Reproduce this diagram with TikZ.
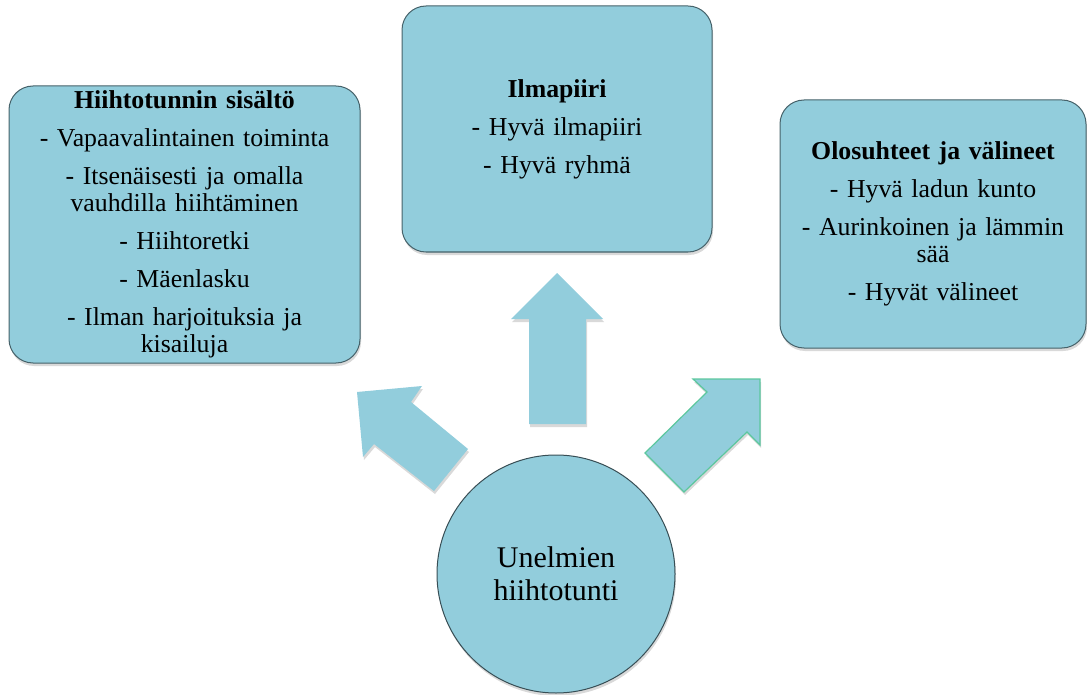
\documentclass[tikz,border=0pt]{standalone}
\usepackage{fontspec}
\setmainfont{Liberation Serif}
\usetikzlibrary{shadows}
\definecolor{boxfill}{HTML}{92CDDC}
\definecolor{boxline}{HTML}{46626A}
\definecolor{arrowline}{HTML}{5CC79E}
\tikzset{
  softshadow/.style={drop shadow={opacity=0.3, shadow xshift=1pt, shadow yshift=-3pt}},
  infobox/.style={draw=boxline, line width=1pt, fill=boxfill, rounded corners=24pt,
    align=center, inner sep=0pt, font=\fontsize{25.8}{27}\selectfont, softshadow},
  hubcircle/.style={circle, draw=boxline!80!black, line width=1pt, fill=boxfill,
    align=center, inner sep=0pt, minimum size=238pt, font=\fontsize{30}{33}\selectfont, softshadow},
  blockarrow/.style={fill=boxfill, softshadow}
}
\begin{document}
\begin{tikzpicture}[x=1pt, y=-1pt]
  \useasboundingbox (0,0) rectangle (1087,695);
  \node[infobox, minimum width=351pt, minimum height=277pt, text width=345pt] (content) at (184.5,224.5)
    {\textbf{Hiihtotunnin sisältö}\\[11pt]
     - Vapaavalintainen toiminta\\[11pt]
     - Itsenäisesti ja omalla\\ vauhdilla hiihtäminen\\[11pt]
     - Hiihtoretki\\[11pt]
     - Mäenlasku\\[11pt]
     - Ilman harjoituksia ja\\ kisailuja};
  \node[infobox, minimum width=310pt, minimum height=246pt, text width=300pt] (mood) at (557,129)
    {\textbf{Ilmapiiri}\\[11pt]
     - Hyvä ilmapiiri\\[11pt]
     - Hyvä ryhmä};
  \node[infobox, minimum width=306pt, minimum height=248pt, text width=300pt] (conditions) at (933,224)
    {\textbf{Olosuhteet ja välineet}\\[11pt]
     - Hyvä ladun kunto\\[11pt]
     - Aurinkoinen ja lämmin\\ sää\\[11pt]
     - Hyvät välineet};
  \fill[blockarrow] (557,273) -- (603,319) -- (586,319) -- (586,424) -- (529,424) -- (529,319) -- (511,319) -- cycle;
  \fill[blockarrow] (357,392) -- (422,386) -- (411,402) -- (468,449) -- (434,491) -- (374,444) -- (363,457) -- cycle;
  \filldraw[blockarrow, draw=arrowline, line width=1.2pt] (760,379) -- (760,445) -- (747,432) -- (684,492) -- (645,453) -- (707,392) -- (693,379) -- cycle;
  \node[hubcircle] (hub) at (556,574) {Unelmien\\hiihtotunti};
\end{tikzpicture}
\end{document}
